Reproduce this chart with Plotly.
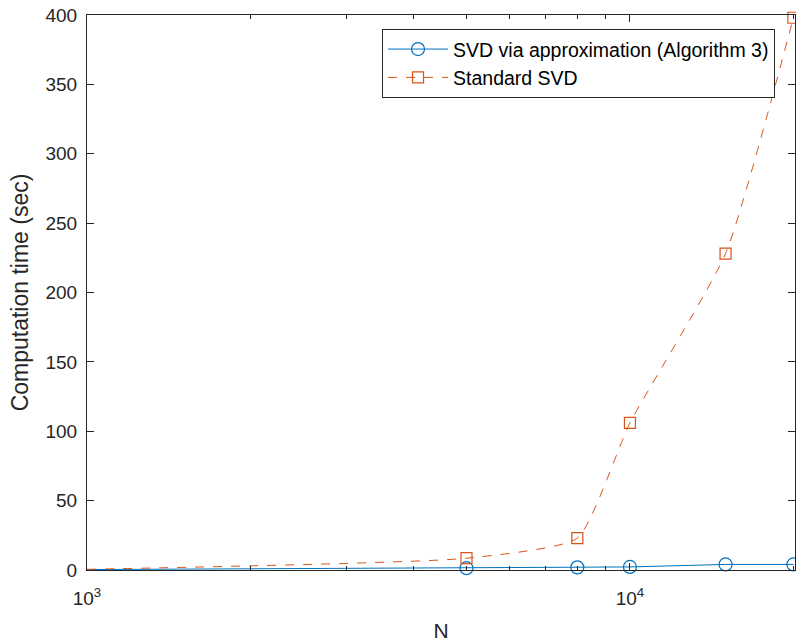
import plotly.graph_objects as go

N = [1000, 5000, 8000, 10000, 15000, 20000]
approx_time = [0.3, 1.3, 1.9, 2.2, 4.0, 4.0]
standard_time = [0.5, 8.5, 23, 106, 228, 398]
y_ticks = [0, 50, 100, 150, 200, 250, 300, 350, 400]
x_tick_vals = [1000, 10000]
x_tick_text = ["10<sup>3</sup>", "10<sup>4</sup>"]

fig = go.Figure()
fig.add_trace(go.Scatter(
    x=N, y=approx_time, mode="lines+markers",
    name="SVD via approximation (Algorithm 3)",
    line=dict(color="#0072BD", width=1),
    marker=dict(symbol="circle-open", size=13, color="#0072BD", line=dict(width=1.2)),
    cliponaxis=False,
))
fig.add_trace(go.Scatter(
    x=N, y=standard_time, mode="lines+markers",
    name="Standard SVD",
    line=dict(color="#D95319", width=1, dash="dash", shape="spline", smoothing=0.5),
    marker=dict(symbol="square-open", size=11, color="#D95319", line=dict(width=1.2)),
    cliponaxis=False,
))

axis_common = dict(
    showline=True, linecolor="#262626", linewidth=1, mirror="ticks",
    ticks="inside", ticklen=7, tickcolor="#262626", showgrid=False, zeroline=False,
    tickfont=dict(size=19, color="#262626"), automargin=False,
)
fig.update_xaxes(
    type="log", range=[3, 4.304],
    tickvals=x_tick_vals, ticktext=x_tick_text,
    minor=dict(ticks="inside", ticklen=4, tickcolor="#262626",
               tickvals=[2000, 3000, 4000, 5000, 6000, 7000, 8000, 9000, 20000]),
    ticklabelstandoff=11,
    title=dict(text="N", font=dict(size=21, color="#262626"), standoff=15),
    **axis_common,
)
fig.update_yaxes(
    range=[0, 400], tickvals=y_ticks,
    ticklabelstandoff=5,
    title=dict(text="Computation time (sec)", font=dict(size=23, color="#262626"), standoff=10),
    **axis_common,
)
fig.update_layout(
    width=796, height=643,
    margin=dict(l=87, r=1, t=15, b=73),
    paper_bgcolor="white", plot_bgcolor="white",
    font=dict(family="Liberation Sans, Arial, sans-serif", color="#262626"),
    legend=dict(x=0.9718, y=0.975, xanchor="right", yanchor="top",
                bordercolor="#262626", borderwidth=1, bgcolor="white",
                itemwidth=60,
                font=dict(size=19.5, color="#000000"), tracegroupgap=0),
)
fig.write_html("out.html", config={"displayModeBar": False},
               post_script="document.body.style.margin='0';document.body.style.overflow='hidden';")
